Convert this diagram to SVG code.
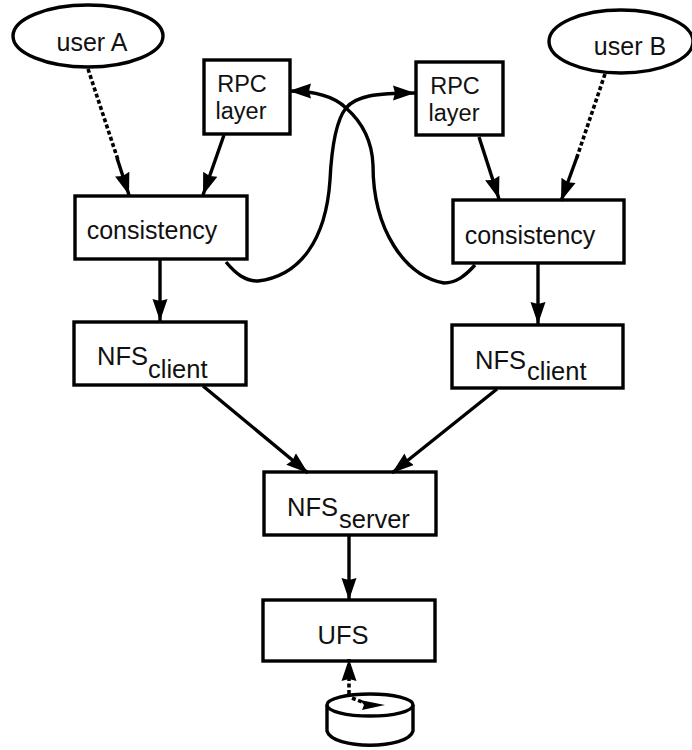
<svg xmlns="http://www.w3.org/2000/svg" width="692" height="750" viewBox="0 0 692 750">
<style>
.b{fill:#fff;stroke:#000;stroke-width:3.400}
.c{fill:none;stroke:#000;stroke-width:3.400}
.d{fill:none;stroke:#000;stroke-width:3.600;stroke-dasharray:4 2.500}
.t{font-family:"Liberation Sans",Arial,sans-serif;font-size:25px;fill:#111}
.r{font-size:23.500px}
.s{font-size:25.500px}
</style>
<defs>
<marker id="a" markerUnits="userSpaceOnUse" markerWidth="24" markerHeight="18" refX="22" refY="9" orient="auto"><path d="M0 1.500L22 9L0 16.500L2 9Z" fill="#000"/></marker>
</defs>
<rect width="692" height="750" fill="#fff"/>
<g id="userA"><ellipse class="b" cx="88" cy="36" rx="75" ry="31"/><text class="t" x="92" y="51" text-anchor="middle">user A</text></g>
<g id="rpcA"><rect class="b" x="204" y="60" width="86" height="74"/><text class="t r" x="242" y="92" text-anchor="middle">RPC</text><text class="t r" x="241" y="119" text-anchor="middle">layer</text></g>
<g id="rpcB"><rect class="b" x="416" y="62" width="87" height="73"/><text class="t r" x="455" y="94" text-anchor="middle">RPC</text><text class="t r" x="454" y="121" text-anchor="middle">layer</text></g>
<g id="userB"><ellipse class="b" cx="621" cy="41.500" rx="72" ry="31.500"/><text class="t" x="630" y="55" text-anchor="middle">user B</text></g>
<g id="consistencyA"><rect class="b" x="75" y="196" width="172" height="63"/><text class="t" x="152" y="239" text-anchor="middle">consistency</text></g>
<g id="consistencyB"><rect class="b" x="453" y="200" width="171" height="63"/><text class="t" x="530" y="244" text-anchor="middle">consistency</text></g>
<g id="nfsClientA"><rect class="b" x="74" y="322" width="172" height="63"/><text class="t s" x="97" y="365">NFS</text><text class="t s" x="148" y="378">client</text></g>
<g id="nfsClientB"><rect class="b" x="452" y="325" width="171" height="63"/><text class="t s" x="475" y="369">NFS</text><text class="t s" x="527" y="380">client</text></g>
<g id="nfsServer"><rect class="b" x="264" y="472" width="172" height="63"/><text class="t s" x="287" y="516">NFS</text><text class="t s" x="339" y="528">server</text></g>
<g id="ufs"><rect class="b" x="263" y="600" width="172" height="61"/><text class="t s" x="343" y="644" text-anchor="middle">UFS</text></g>
<g id="disk"><path class="b" d="M327 705V731C332 750 408 750 413 731V705"/><ellipse class="b" cx="370" cy="705" rx="43" ry="11"/></g>
<g id="connectors">
<path class="d" d="M88 69L118 160"/>
<path class="c" d="M117 158L129 195" marker-end="url(#a)"/>
<path class="c" d="M224 135L203 195" marker-end="url(#a)"/>
<path class="c" d="M479 137L499 199" marker-end="url(#a)"/>
<path class="d" d="M605 74L576 160"/>
<path class="c" d="M577 157L561 201" marker-end="url(#a)"/>
<path class="c" d="M160 260L160 321" marker-end="url(#a)"/>
<path class="c" d="M538 264L538 324" marker-end="url(#a)"/>
<path class="c" d="M203 386L308 473" marker-end="url(#a)"/>
<path class="c" d="M497 389L392 473" marker-end="url(#a)"/>
<path class="c" d="M349 536L349 600" marker-end="url(#a)"/>
<path class="c" d="M226 262C236 274 245 281 258 281C300 276 326 240 330 180C332 140 338 118 346 108C356 96 375 93 415 93" marker-end="url(#a)"/>
<path class="c" d="M475 265C465 276 456 283 444 283C405 276 373 230 373 165C372 140 362 122 346 108C335 97 315 91 289 91" marker-end="url(#a)"/>
<path class="d" d="M349 694L349 659" marker-end="url(#a)"/>
<path class="d" d="M352 698L362 702"/>
<path d="M360 700L385 705L362 710L364 705Z" fill="#000"/>
</g>
</svg>
